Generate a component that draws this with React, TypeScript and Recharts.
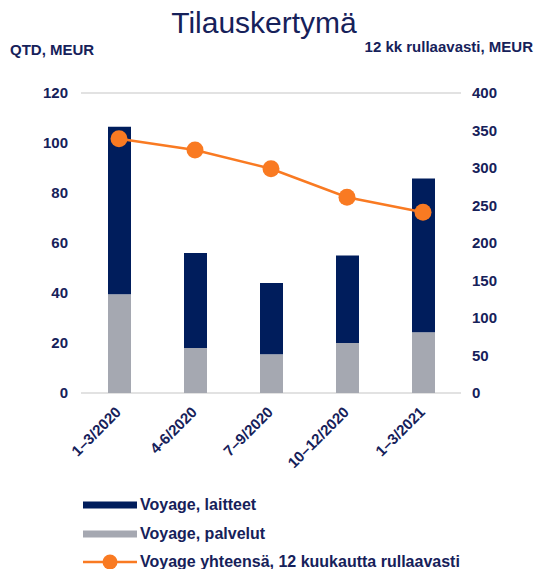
import React from "react";
import { ComposedChart, Bar, Line, XAxis, YAxis, CartesianGrid } from "recharts";

const categories = ["1–3/2020", "4-6/2020", "7–9/2020", "10–12/2020", "1–3/2021"];
const laitteet = [67, 38, 28.5, 35, 61.5];
const palvelut = [39.5, 18, 15.5, 20, 24.3];
const rolling = [339, 324, 299, 261, 241];
const leftTicks = [0, 20, 40, 60, 80, 100, 120];
const rightTicks = [0, 50, 100, 150, 200, 250, 300, 350, 400];

const NAVY = "#001d5c";
const GREY = "#a5a8b1";
const ORANGE = "#f97a22";
const TEXT = "#16215a";
const FONT = "'Liberation Sans', Arial, sans-serif";

const data = categories.map((c, i) => ({
  name: c,
  laitteet: laitteet[i],
  palvelut: palvelut[i],
  rolling: rolling[i],
}));

// rotated category label
const XTick = ({ x, y, payload }: any) => (
  <text
    x={x + 3}
    y={y + 12}
    textAnchor="end"
    transform={`rotate(-45 ${x + 3} ${y + 12})`}
    fill={TEXT}
    fontSize={15}
    fontWeight="bold"
    fontFamily={FONT}
  >
    {payload.value}
  </text>
);

const legendItems = [
  { label: "Voyage, laitteet", color: NAVY, type: "bar" },
  { label: "Voyage, palvelut", color: GREY, type: "bar" },
  { label: "Voyage yhteensä, 12 kuukautta rullaavasti", color: ORANGE, type: "line" },
];

export default function App() {
  return (
    <div style={{ position: "relative", width: 536, height: 569, fontFamily: FONT, background: "#fff" }}>
      <style>{"body{margin:0}"}</style>
      <div style={{ position: "absolute", left: 0, width: 528, top: 6, textAlign: "center", fontSize: 30, color: TEXT }}>
        Tilauskertymä
      </div>
      <div style={{ position: "absolute", left: 10, top: 41, fontSize: 15, fontWeight: "bold", color: TEXT }}>
        QTD, MEUR
      </div>
      <div style={{ position: "absolute", right: 3, top: 38, fontSize: 15, fontWeight: "bold", color: TEXT }}>
        12 kk rullaavasti, MEUR
      </div>
      <ComposedChart
        width={536}
        height={569}
        data={data}
        margin={{ top: 93, right: 0, bottom: 0, left: 0 }}
        style={{ position: "absolute", left: 0, top: 0 }}
      >
        <CartesianGrid vertical={false} stroke="#d9d9d9" strokeWidth={1.5} />
        <XAxis
          dataKey="name"
          height={176}
          axisLine={false}
          tickLine={false}
          interval={0}
          tick={<XTick />}
        />
        <YAxis
          yAxisId="left"
          width={81}
          domain={[0, 120]}
          ticks={leftTicks}
          axisLine={false}
          tickLine={false}
          tickMargin={7}
          tick={{ fill: TEXT, fontSize: 15, fontWeight: "bold", fontFamily: FONT }}
        />
        <YAxis
          yAxisId="right"
          orientation="right"
          width={75}
          domain={[0, 400]}
          ticks={rightTicks}
          axisLine={false}
          tickLine={false}
          tickMargin={5}
          tick={{ fill: TEXT, fontSize: 15, fontWeight: "bold", fontFamily: FONT, textAnchor: "start" }}
        />
        <Bar yAxisId="left" dataKey="palvelut" stackId="a" fill={GREY} barSize={23} isAnimationActive={false} />
        <Bar yAxisId="left" dataKey="laitteet" stackId="a" fill={NAVY} barSize={23} isAnimationActive={false} />
        <Line
          yAxisId="right"
          dataKey="rolling"
          stroke={ORANGE}
          strokeWidth={2.5}
          dot={{ r: 8.5, fill: ORANGE, stroke: ORANGE, strokeWidth: 0 }}
          activeDot={false}
          isAnimationActive={false}
        />
      </ComposedChart>
      <div style={{ position: "absolute", left: 83, top: 491 }}>
        {legendItems.map((it) => (
          <div key={it.label} style={{ display: "flex", alignItems: "center", height: 28.5 }}>
            <svg width={55} height={20} style={{ marginRight: 2 }}>
              {it.type === "bar" ? (
                <rect x={0} y={6.5} width={54} height={7} fill={it.color} />
              ) : (
                <>
                  <line x1={0} y1={10} x2={54} y2={10} stroke={it.color} strokeWidth={2.5} />
                  <circle cx={27} cy={10} r={7.5} fill={it.color} />
                </>
              )}
            </svg>
            <span style={{ fontSize: 16, fontWeight: "bold", color: TEXT }}>{it.label}</span>
          </div>
        ))}
      </div>
    </div>
  );
}
